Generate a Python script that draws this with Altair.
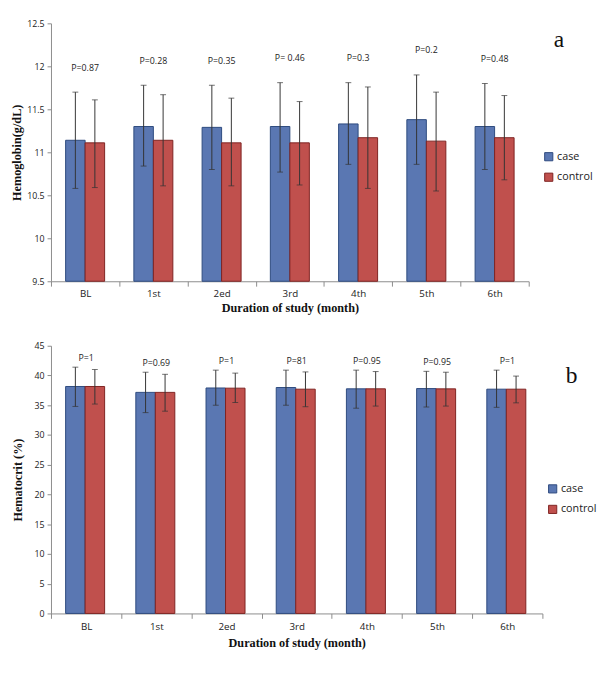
import altair as alt
import pandas as pd

periods = ["BL", "1st", "2ed", "3rd", "4th", "5th", "6th"]
groups = ["case", "control"]

# Hemoglobin (g/dL)
hb_case_mean = [11.14, 11.30, 11.29, 11.30, 11.33, 11.38, 11.30]
hb_case_low = [10.58, 10.84, 10.80, 10.77, 10.86, 10.86, 10.80]
hb_case_high = [11.70, 11.78, 11.78, 11.81, 11.81, 11.90, 11.80]
hb_ctrl_mean = [11.11, 11.14, 11.11, 11.11, 11.17, 11.13, 11.17]
hb_ctrl_low = [10.59, 10.61, 10.61, 10.62, 10.58, 10.55, 10.68]
hb_ctrl_high = [11.61, 11.67, 11.63, 11.59, 11.76, 11.70, 11.66]
hb_p = ["P=0.87", "P=0.28", "P=0.35", "P= 0.46", "P=0.3", "P=0.2", "P=0.48"]
hb_ticks = [9.5, 10, 10.5, 11, 11.5, 12, 12.5]

# Hematocrit (%)
hct_case_mean = [38.15, 37.16, 37.90, 37.98, 37.76, 37.80, 37.70]
hct_case_low = [34.80, 33.76, 35.00, 35.00, 34.50, 34.70, 34.65]
hct_case_high = [41.40, 40.55, 40.90, 40.90, 40.90, 40.70, 40.90]
hct_ctrl_mean = [38.15, 37.16, 37.87, 37.70, 37.76, 37.75, 37.70]
hct_ctrl_low = [35.20, 34.00, 35.46, 34.75, 34.86, 34.86, 35.40]
hct_ctrl_high = [41.00, 40.20, 40.40, 40.60, 40.66, 40.55, 39.90]
hct_p = ["P=1", "P=0.69", "P=1", "P=81", "P=0.95", "P=0.95", "P=1"]
hct_ticks = [0, 5, 10, 15, 20, 25, 30, 35, 40, 45]

FILL = ["#5A77B2", "#C0504D"]
STROKE = ["#2D4A7E", "#7E2321"]
SERIF = "Liberation Serif"
SANS = "Open Sans"


def long_df(cm, cl, ch, km, kl, kh):
    rows = []
    for i, p in enumerate(periods):
        rows.append({"period": p, "group": "case", "mean": cm[i], "lo": cl[i], "hi": ch[i]})
        rows.append({"period": p, "group": "control", "mean": km[i], "lo": kl[i], "hi": kh[i]})
    return pd.DataFrame(rows)


def panel(df, pvals, case_high, domain, ticks, ytitle, letter, width, height,
          pdy, letter_xy, legend_xy, ytitle_pad, xtitle_pad):
    base = alt.Chart(df)
    xaxis = alt.Axis(title="Duration of study (month)", labelAngle=0, tickBand="extent",
                     tickSize=5, labelPadding=3, titlePadding=xtitle_pad,
                     labelFont=SANS, labelFontSize=10, labelColor="#222",
                     titleFont=SERIF, titleFontSize=12.5, titleFontWeight="bold",
                     titleColor="#111", domainColor="#8a8a8a", tickColor="#8a8a8a")
    xscale = alt.Scale(paddingInner=0, paddingOuter=0)
    x = alt.X("period:N", sort=periods, scale=xscale, axis=xaxis)
    xo = alt.XOffset("group:N", sort=groups,
                     scale=alt.Scale(paddingInner=0, paddingOuter=0.75))
    yscale = alt.Scale(domain=domain, zero=False, nice=False)
    yaxis = alt.Axis(title=ytitle, values=ticks, format="~g", grid=False,
                     tickSize=4, labelPadding=3, titlePadding=ytitle_pad,
                     labelFont=SANS, labelFontSize=9, labelColor="#222",
                     titleFont=SERIF, titleFontSize=12.5, titleFontWeight="bold",
                     titleColor="#111", domainColor="#8a8a8a", tickColor="#8a8a8a")
    legend = alt.Legend(title=None, orient="none", legendX=legend_xy[0], legendY=legend_xy[1],
                        symbolType="square", symbolSize=70, symbolStrokeWidth=1,
                        labelFont=SANS, labelFontSize=11, labelColor="#222",
                        rowPadding=8, labelOffset=3)
    bars = base.mark_bar(strokeWidth=1).encode(
        x=x, xOffset=xo,
        y=alt.Y("mean:Q", scale=yscale, axis=yaxis), y2=alt.datum(domain[0]),
        fill=alt.Fill("group:N", sort=groups, scale=alt.Scale(domain=groups, range=FILL), legend=legend),
        stroke=alt.Stroke("group:N", sort=groups, scale=alt.Scale(domain=groups, range=STROKE), legend=legend),
    )
    rules = base.mark_rule(color="#333", strokeWidth=1).encode(
        x=x, xOffset=xo, y=alt.Y("lo:Q", scale=yscale, axis=yaxis), y2="hi:Q")
    cap_hi = base.mark_tick(color="#333", size=6, thickness=1).encode(
        x=x, xOffset=xo, y=alt.Y("hi:Q", scale=yscale, axis=yaxis))
    cap_lo = base.mark_tick(color="#333", size=6, thickness=1).encode(
        x=x, xOffset=xo, y=alt.Y("lo:Q", scale=yscale, axis=yaxis))
    pdf = pd.DataFrame({"period": periods, "p": pvals, "top": case_high})
    ptext = alt.Chart(pdf).mark_text(font=SANS, fontSize=9, color="#222", dy=pdy).encode(
        x=alt.X("period:N", sort=periods, scale=xscale, axis=xaxis),
        y=alt.Y("top:Q", scale=yscale, axis=yaxis), text="p:N")
    ltext = alt.Chart(pd.DataFrame({"t": [letter]})).mark_text(
        font=SERIF, fontSize=24, color="#111", align="center", baseline="middle").encode(
        x=alt.value(letter_xy[0]), y=alt.value(letter_xy[1]), text="t:N")
    return alt.layer(bars, rules, cap_hi, cap_lo, ptext, ltext).properties(width=width, height=height)


hb_df = long_df(hb_case_mean, hb_case_low, hb_case_high, hb_ctrl_mean, hb_ctrl_low, hb_ctrl_high)
hct_df = long_df(hct_case_mean, hct_case_low, hct_case_high, hct_ctrl_mean, hct_ctrl_low, hct_ctrl_high)

top = panel(hb_df, hb_p, hb_case_high, [9.5, 12.5], hb_ticks, "Hemoglobin(g/dL)", "a",
            489, 264, -25, (520, 17), (504, 131), 3.5, 3)
bottom = panel(hct_df, hct_p, hct_case_high, [0, 45], hct_ticks, "Hematocrit (%)", "b",
               503, 274, -9, (533, 31), (508, 141), 9.5, 6)

chart = alt.concat(top, bottom, columns=1, spacing=28).resolve_scale(
    fill="independent", stroke="independent").resolve_legend(
    fill="independent", stroke="independent").properties(
    padding={"left": 2, "top": 4, "right": 5, "bottom": 5}
).configure_view(stroke=None)

chart.save("out.html", embed_options={"renderer": "svg", "actions": False})
